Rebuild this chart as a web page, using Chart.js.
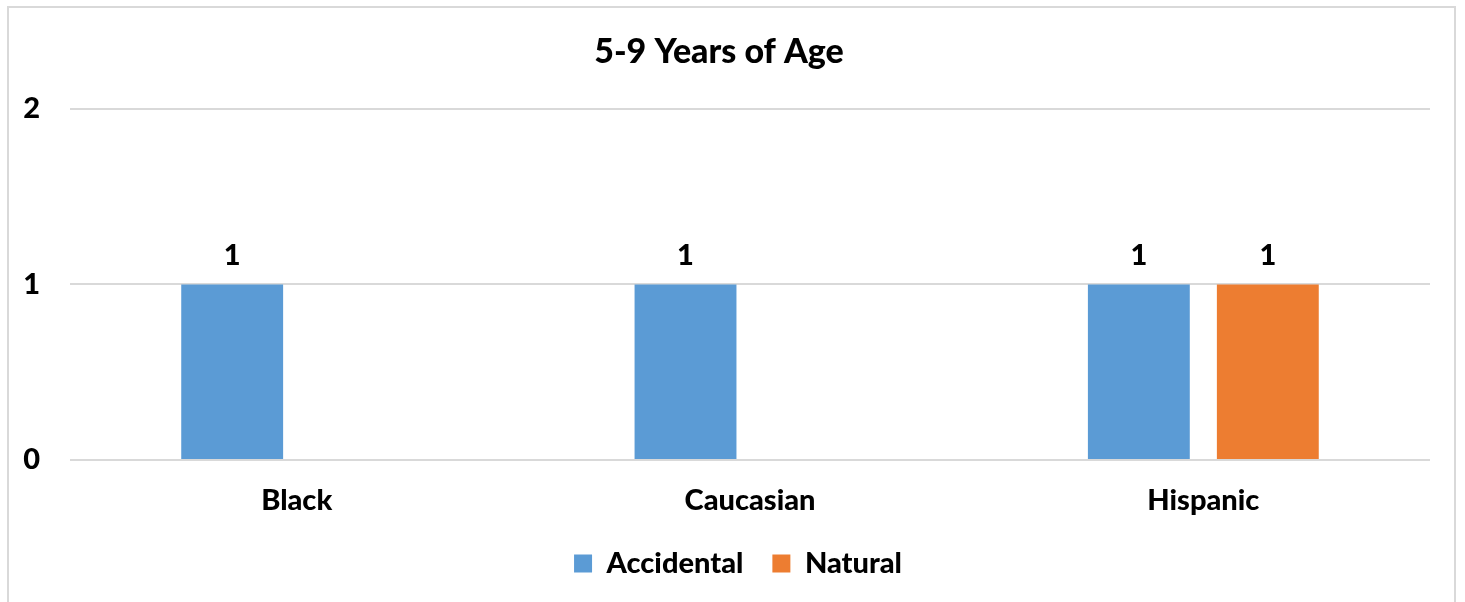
<!DOCTYPE html>
<html>
<head>
<meta charset="utf-8">
<script src="https://cdn.jsdelivr.net/npm/chart.js@4"></script>
<style>
  html, body { margin: 0; padding: 0; background: #fff; }
  #wrap { position: relative; width: 1465px; height: 602px; overflow: hidden; }
  #frame { position: absolute; left: 7px; top: 6px; width: 1449px; height: 620px; border: 2px solid #d9d9d9; box-sizing: border-box; }
  canvas { position: absolute; left: 0; top: 0; }
</style>
</head>
<body>
<div id="wrap">
  <div id="frame"></div>
  <canvas id="chart" width="1465" height="602"></canvas>
</div>
<script>
// chart data
const categories = ['Black', 'Caucasian', 'Hispanic'];
const accidental = [1, 1, 1];
const natural = [null, null, 1];
const yTicks = [0, 1, 2];

const FONT = 'Lato, "Open Sans", sans-serif';
const WEIGHT = 900;

// draws the value above each bar
const barLabels = {
    id: 'barLabels',
    afterDatasetsDraw(chart) {
        const ctx = chart.ctx;
        ctx.save();
        ctx.font = WEIGHT + ' 29px ' + FONT;
        ctx.fillStyle = '#000';
        ctx.textAlign = 'center';
        ctx.textBaseline = 'middle';
        chart.data.datasets.forEach((ds, i) => {
            chart.getDatasetMeta(i).data.forEach((bar, j) => {
                if (ds.data[j] == null) return;
                ctx.fillText(ds.data[j], bar.x, bar.y - 29);
            });
        });
        ctx.restore();
    }
};

// legend is centred on the whole frame, not on the plot area
const legendShift = {
    id: 'legendShift',
    afterLayout(chart) {
        chart.legend.left += 19;
        chart.legend.right += 19;
    }
};

document.addEventListener('DOMContentLoaded', () => {
    const ctx = document.getElementById('chart').getContext('2d');
    new Chart(ctx, {
        type: 'bar',
        data: {
            labels: categories,
            datasets: [{
                label: 'Accidental',
                data: accidental,
                backgroundColor: '#5b9bd5',
                categoryPercentage: 0.569,
                barPercentage: 0.79
            }, {
                label: 'Natural',
                data: natural,
                backgroundColor: '#ed7d31',
                categoryPercentage: 0.569,
                barPercentage: 0.79
            }]
        },
        options: {
            responsive: false,
            animation: false,
            layout: { padding: { left: 8, right: 35, top: 20, bottom: 14 } },
            plugins: {
                title: {
                    display: true,
                    text: '5-9 Years of Age',
                    color: '#000',
                    font: { family: FONT, size: 34, weight: WEIGHT },
                    padding: { top: 12, bottom: 36 }
                },
                legend: {
                    position: 'bottom',
                    labels: {
                        color: '#000',
                        font: { family: FONT, size: 29, weight: WEIGHT },
                        boxWidth: 18,
                        boxHeight: 18,
                        padding: 29
                    }
                },
                tooltip: { enabled: false }
            },
            scales: {
                x: {
                    grid: { display: false },
                    border: { display: false },
                    afterFit: (scale) => { scale.height = 60; },
                    ticks: {
                        color: '#000',
                        padding: 15,
                        font: { family: FONT, size: 29, weight: WEIGHT }
                    }
                },
                y: {
                    min: yTicks[0],
                    max: yTicks[yTicks.length - 1],
                    afterBuildTicks: (scale) => { scale.ticks = yTicks.map(v => ({ value: v })); },
                    afterFit: (scale) => { scale.width = 62; },
                    grid: { color: '#d9d9d9', lineWidth: 2, drawTicks: false },
                    border: { display: false },
                    ticks: {
                        color: '#000',
                        padding: 30,
                        font: { family: FONT, size: 29, weight: WEIGHT }
                    }
                }
            }
        },
        plugins: [barLabels, legendShift]
    });
});
</script>
</body>
</html>
